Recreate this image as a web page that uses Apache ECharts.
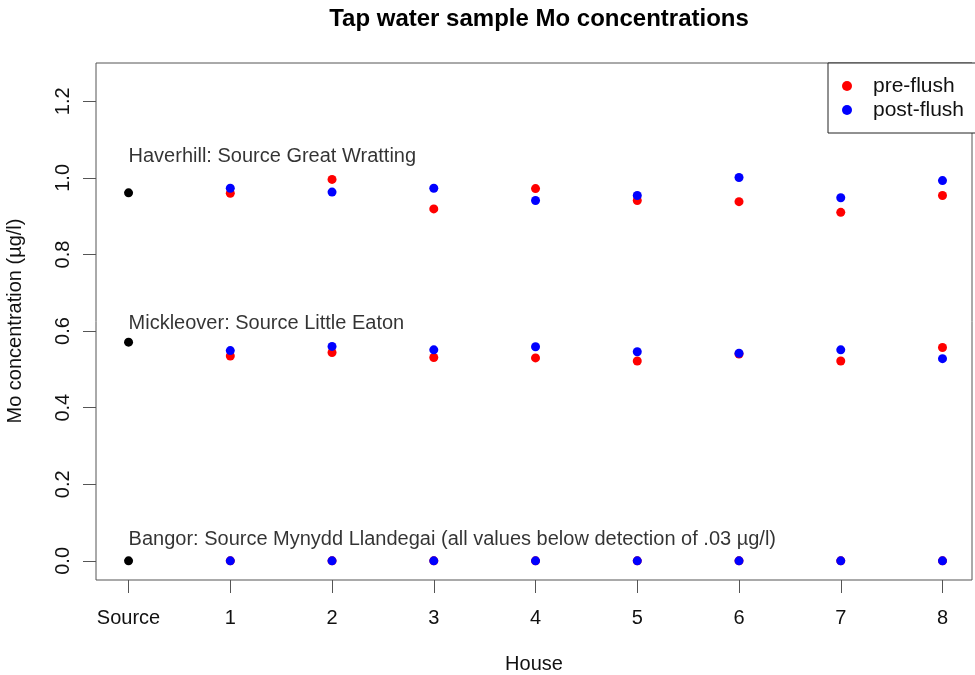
<!DOCTYPE html>
<html>
<head>
<meta charset="utf-8">
<title>Tap water sample Mo concentrations</title>
<script src="https://cdn.jsdelivr.net/npm/echarts@6/dist/echarts.min.js"></script>
<style>
html, body { margin: 0; padding: 0; background: #fff; }
#chart { width: 975px; height: 675px; }
</style>
</head>
<body>
<div id="chart"></div>
<script>
// x positions: 0 = Source, 1..8 = houses
var xLabels = ['Source', '1', '2', '3', '4', '5', '6', '7', '8'];
var houses = [1, 2, 3, 4, 5, 6, 7, 8];
var yTicks = [0, 0.2, 0.4, 0.6, 0.8, 1.0, 1.2];

// source values: Haverhill, Mickleover, Bangor
var sourceValues = [0.961, 0.571, 0.0];

// Haverhill
var haverhillPre = [0.960, 0.996, 0.919, 0.972, 0.941, 0.938, 0.910, 0.954];
var haverhillPost = [0.973, 0.963, 0.973, 0.941, 0.954, 1.001, 0.948, 0.993];
// Mickleover
var mickleoverPre = [0.535, 0.544, 0.531, 0.530, 0.522, 0.540, 0.522, 0.557];
var mickleoverPost = [0.549, 0.560, 0.551, 0.559, 0.546, 0.542, 0.551, 0.528];
// Bangor (all below detection)
var bangorPre = [0, 0, 0, 0, 0, 0, 0, 0];
var bangorPost = [0, 0, 0, 0, 0, 0, 0, 0];

var siteLabels = [
    'Haverhill: Source Great Wratting',
    'Mickleover: Source Little Eaton',
    'Bangor: Source Mynydd Llandegai (all values below detection of .03 \u00b5g/l)'
];
var siteLabelY = [1.055, 0.62, 0.055];

var xMin = -0.32, xMax = 8.29;
var yMin = -0.05, yMax = 1.3;

var font = '"Liberation Sans", Arial, Helvetica, sans-serif';
var textColor = '#111';
var lineColor = '#555';

function pairs(vals) {
    return vals.map(function (v, i) { return [houses[i], v]; });
}

var preData = pairs(haverhillPre).concat(pairs(mickleoverPre), pairs(bangorPre));
var postData = pairs(haverhillPost).concat(pairs(mickleoverPost), pairs(bangorPost));
var sourceData = sourceValues.map(function (v) { return [0, v]; });
var labelData = siteLabels.map(function (t, i) { return { name: t, value: [0, siteLabelY[i]] }; });
var xTickPos = xLabels.map(function (_, i) { return i; });

var chart = echarts.init(document.getElementById('chart'));
chart.setOption({
    backgroundColor: '#fff',
    animation: false,
    title: {
        text: 'Tap water sample Mo concentrations',
        left: 534,
        top: 2,
        textAlign: 'center',
        textStyle: { fontFamily: font, fontSize: 24, fontWeight: 'bold', color: '#000' }
    },
    // axis titles as plain text so they do not push the grid around
    graphic: [
        {
            type: 'text',
            x: 534,
            y: 664,
            style: { text: 'House', font: '20px ' + font, fill: textColor, align: 'center', verticalAlign: 'middle' }
        },
        {
            type: 'text',
            x: 15,
            y: 321,
            rotation: Math.PI / 2,
            style: { text: 'Mo concentration (\u00b5g/l)', font: '20px ' + font, fill: textColor, align: 'center', verticalAlign: 'middle' }
        }
    ],
    legend: {
        data: ['pre-flush', 'post-flush'],
        orient: 'vertical',
        left: 828,
        top: 63,
        padding: [12, 30, 12, 14],
        itemGap: 2,
        itemWidth: 10,
        itemHeight: 10,
        icon: 'circle',
        borderColor: '#222',
        borderWidth: 1,
        backgroundColor: '#fff',
        textStyle: { fontFamily: font, fontSize: 21, color: textColor, lineHeight: 22, padding: [0, 0, 0, 16] }
    },
    grid: {
        left: 96,
        right: 3,
        top: 63,
        bottom: 95,
        show: true,
        borderColor: lineColor,
        borderWidth: 1,
        backgroundColor: '#fff'
    },
    xAxis: {
        type: 'value',
        min: xMin,
        max: xMax,
        axisLine: { show: false, onZero: false },
        axisTick: { show: true, length: 13, customValues: xTickPos, lineStyle: { color: lineColor } },
        axisLabel: {
            customValues: xTickPos,
            margin: 28,
            fontFamily: font,
            fontSize: 20,
            color: textColor,
            formatter: function (v) { return xLabels[Math.round(v)]; }
        },
        splitLine: { show: false }
    },
    yAxis: {
        type: 'value',
        min: yMin,
        max: yMax,
        axisLine: { show: false, onZero: false },
        axisTick: { show: true, length: 13, customValues: yTicks, lineStyle: { color: lineColor } },
        axisLabel: {
            customValues: yTicks,
            rotate: 90,
            margin: 23,
            fontFamily: font,
            fontSize: 20,
            color: textColor,
            formatter: function (v) { return v.toFixed(1); }
        },
        splitLine: { show: false }
    },
    series: [
        {
            name: 'site labels',
            type: 'scatter',
            silent: true,
            symbolSize: 0,
            data: labelData,
            label: {
                show: true,
                position: 'right',
                distance: 0,
                formatter: '{b}',
                fontFamily: font,
                fontSize: 20,
                color: '#000'
            }
        },
        {
            name: 'source',
            type: 'scatter',
            symbolSize: 9,
            itemStyle: { color: '#000', opacity: 1 },
            data: sourceData
        },
        {
            name: 'pre-flush',
            type: 'scatter',
            symbolSize: 9,
            itemStyle: { color: '#ff0000', opacity: 1 },
            data: preData
        },
        {
            name: 'post-flush',
            type: 'scatter',
            symbolSize: 9,
            itemStyle: { color: '#0000ff', opacity: 1 },
            data: postData
        }
    ]
});
</script>
</body>
</html>
